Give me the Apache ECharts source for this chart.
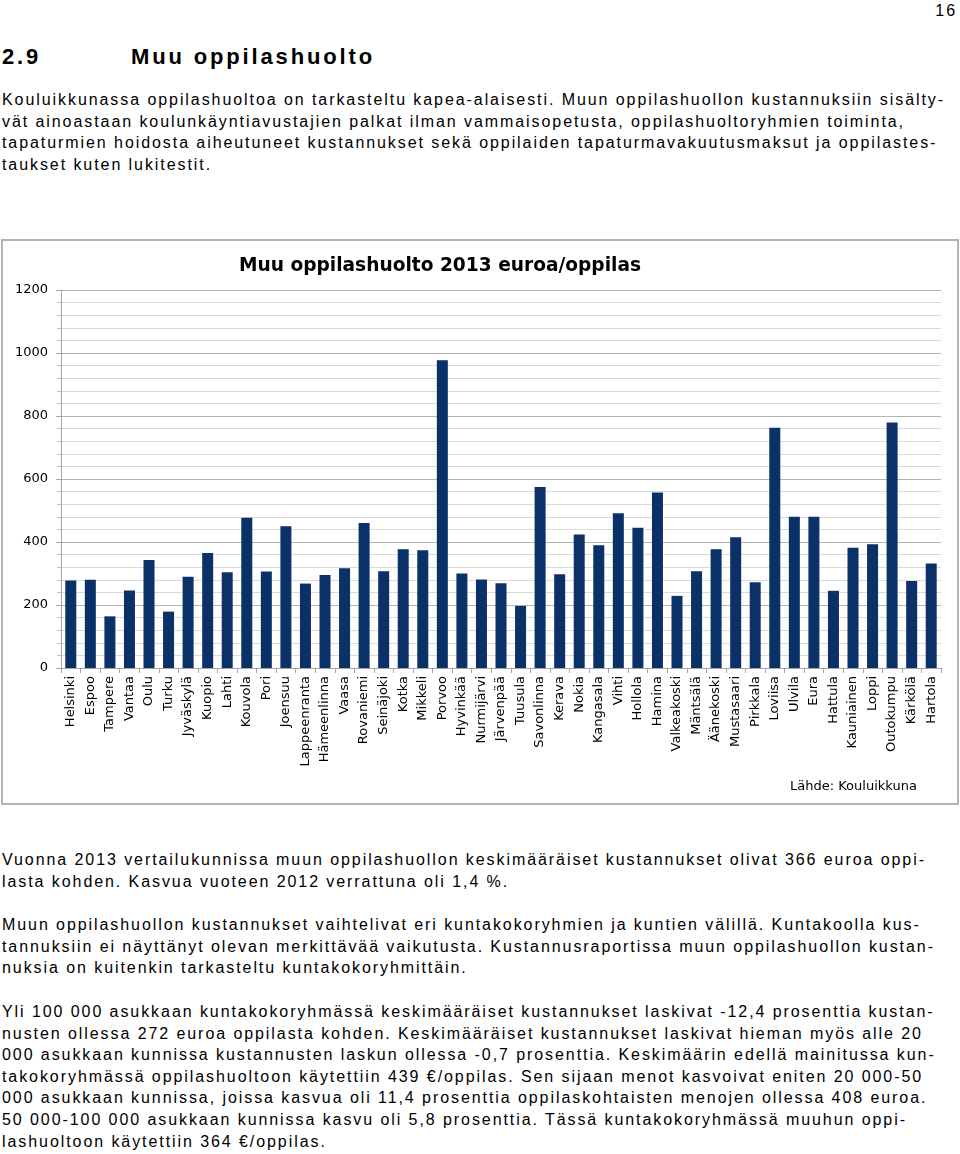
<!DOCTYPE html>
<html><head><meta charset="utf-8">
<script src="https://cdn.jsdelivr.net/npm/echarts@6/dist/echarts.min.js"></script>
<style>
html,body{margin:0;padding:0;background:#fff;width:960px;height:1154px;overflow:hidden;position:relative;}
.t{position:absolute;left:2px;font-family:"Liberation Sans",Arial,sans-serif;font-size:16px;line-height:21.6px;color:#000;white-space:nowrap;}
.h{position:absolute;top:44px;font-family:"Liberation Sans",Arial,sans-serif;font-weight:bold;font-size:22px;line-height:26px;color:#000;white-space:nowrap;}
#frame{position:absolute;left:1px;top:239px;width:954px;height:562px;border:2px solid #b4b4b4;}
#chart{position:absolute;left:0;top:240px;width:960px;height:564px;}
</style></head>
<body>
<div class="t" id="pn" style="top:0px;left:auto;right:3px;">16</div>
<div class="h" id="h1" style="left:2px;">2.9</div>
<div class="h" id="h2" style="left:131px;">Muu oppilashuolto</div>
<div class="t" style="top:89px;"><span id="fitline">Kouluikkunassa oppilashuoltoa on tarkasteltu kapea-alaisesti. Muun oppilashuollon kustannuksiin sisälty-</span><br>vät ainoastaan koulunkäyntiavustajien palkat ilman vammaisopetusta, oppilashuoltoryhmien toiminta,<br>tapaturmien hoidosta aiheutuneet kustannukset sekä oppilaiden tapaturmavakuutusmaksut ja oppilastes-<br>taukset kuten lukitestit.</div>
<div id="frame"></div>
<div id="chart"></div>
<div class="t" style="top:849px;">Vuonna 2013 vertailukunnissa muun oppilashuollon keskimääräiset kustannukset olivat 366 euroa oppi-<br>lasta kohden. Kasvua vuoteen 2012 verrattuna oli 1,4 %.</div>
<div class="t" style="top:914px;">Muun oppilashuollon kustannukset vaihtelivat eri kuntakokoryhmien ja kuntien välillä. Kuntakoolla kus-<br>tannuksiin ei näyttänyt olevan merkittävää vaikutusta. Kustannusraportissa muun oppilashuollon kustan-<br>nuksia on kuitenkin tarkasteltu kuntakokoryhmittäin.</div>
<div class="t" style="top:1001px;">Yli 100 000 asukkaan kuntakokoryhmässä keskimääräiset kustannukset laskivat -12,4 prosenttia kustan-<br>nusten ollessa 272 euroa oppilasta kohden. Keskimääräiset kustannukset laskivat hieman myös alle 20<br>000 asukkaan kunnissa kustannusten laskun ollessa -0,7 prosenttia. Keskimäärin edellä mainitussa kun-<br>takokoryhmässä oppilashuoltoon käytettiin 439 €/oppilas. Sen sijaan menot kasvoivat eniten 20 000-50<br>000 asukkaan kunnissa, joissa kasvua oli 11,4 prosenttia oppilaskohtaisten menojen ollessa 408 euroa.<br>50 000-100 000 asukkaan kunnissa kasvu oli 5,8 prosenttia. Tässä kuntakokoryhmässä muuhun oppi-<br>lashuoltoon käytettiin 364 €/oppilas.</div>
<script>
var categories = ["Helsinki","Espoo","Tampere","Vantaa","Oulu","Turku","Jyväskylä","Kuopio","Lahti","Kouvola","Pori","Joensuu","Lappeenranta","Hämeenlinna","Vaasa","Rovaniemi","Seinäjoki","Kotka","Mikkeli","Porvoo","Hyvinkää","Nurmijärvi","Järvenpää","Tuusula","Savonlinna","Kerava","Nokia","Kangasala","Vihti","Hollola","Hamina","Valkeakoski","Mäntsälä","Äänekoski","Mustasaari","Pirkkala","Loviisa","Ulvila","Eura","Hattula","Kauniainen","Loppi","Outokumpu","Kärkölä","Hartola"];
var values = [278,280,164,246,343,179,290,365,304,477,306,450,268,295,317,460,307,377,374,977,300,281,269,197,575,298,424,390,491,445,557,229,307,377,415,272,763,480,480,245,382,393,779,276,332];
var yMin = 0, yMax = 1200, yStep = 200;
var chartTitle = "Muu oppilashuolto 2013 euroa/oppilas";
var sourceNote = "Lähde: Kouluikkuna";

// fit letter spacing of body text and heading to the page measure
(function(){
  var s = document.getElementById('fitline');
  var w = s.getBoundingClientRect().width;
  var n = s.textContent.length;
  var ls = (943 - w) / n;
  document.querySelectorAll('.t').forEach(function(el){ el.style.letterSpacing = ls + 'px'; });
  var h2 = document.getElementById('h2');
  var hw = h2.getBoundingClientRect().width;
  var hls = (244 - hw) / h2.textContent.length;
  document.querySelectorAll('.h').forEach(function(el){ el.style.letterSpacing = hls + 'px'; });
})();

var chart = echarts.init(document.getElementById('chart'), null, {renderer:'canvas'});
chart.setOption({
  animation: false,
  backgroundColor: 'transparent',
  textStyle: {fontFamily: 'DejaVu Sans'},
  grid: {left: 61, right: 19, top: 50, bottom: 136},
  graphic: [
    {type:'text', x: 440, y: 26, style:{text: chartTitle, align:'center', verticalAlign:'middle', fontFamily:'DejaVu Sans', fontWeight:'bold', fontSize:18.6, fill:'#000'}},
    {type:'text', x: 790, y: 547, style:{text: sourceNote, align:'left', verticalAlign:'middle', fontFamily:'DejaVu Sans', fontSize:13, fill:'#000'}}
  ],
  xAxis: {
    type: 'category',
    data: categories,
    axisLine: {show:true, lineStyle:{color:'#a6a6a6', width:1}},
    axisTick: {show:true, length:5, lineStyle:{color:'#a6a6a6'}},
    axisLabel: {rotate: 90, interval: 0, margin: 8, fontSize: 13, color: '#000', fontFamily: 'DejaVu Sans'}
  },
  yAxis: {
    type: 'value',
    min: yMin, max: yMax, interval: yStep,
    axisLine: {show:true, lineStyle:{color:'#a6a6a6', width:1}},
    axisTick: {show:true, length:5, lineStyle:{color:'#a6a6a6'}},
    minorTick: {show:true, splitNumber:5, length:4, lineStyle:{color:'#b8b8b8'}},
    splitLine: {show:true, lineStyle:{color:'#b3b3b3', width:1}},
    minorSplitLine: {show:true, lineStyle:{color:'#dadada', width:1}},
    axisLabel: {margin: 13, fontSize: 13, color: '#000', fontFamily: 'DejaVu Sans', formatter: function(v){ return String(v); }}
  },
  series: [{
    type: 'bar',
    data: values,
    barWidth: 11,
    itemStyle: {color: '#0b3169'}
  }]
});
</script>
</body></html>
